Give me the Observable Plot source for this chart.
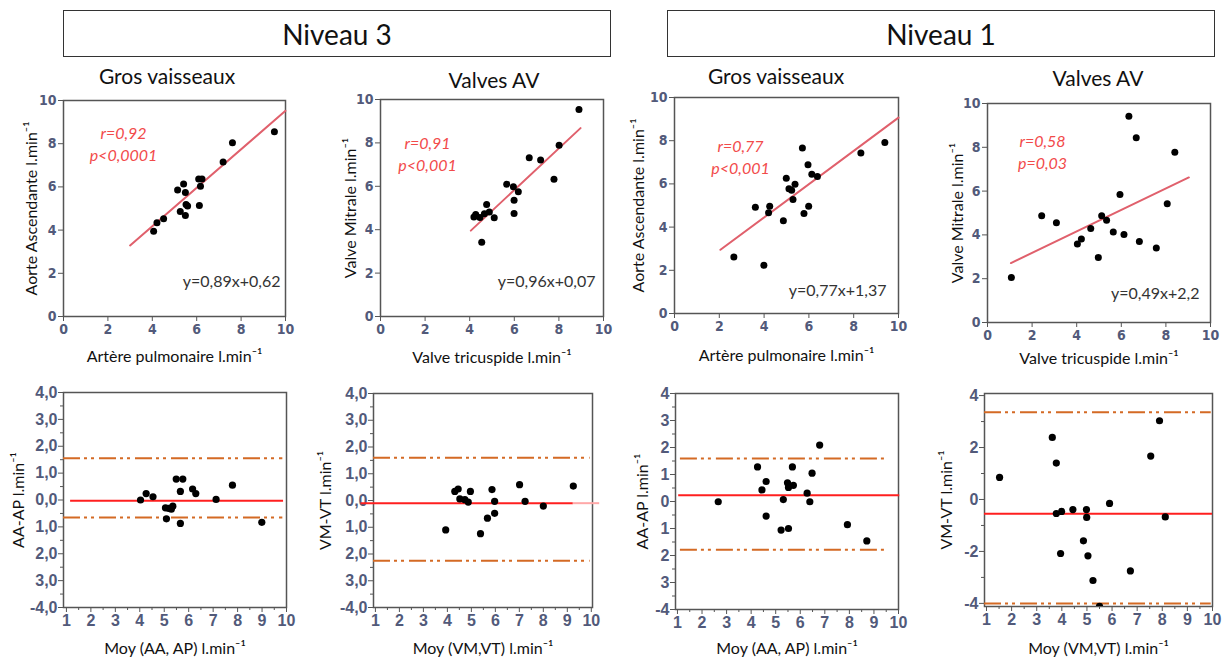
<!DOCTYPE html>
<html><head><meta charset="utf-8">
<script src="https://cdn.jsdelivr.net/npm/d3@7"></script>
<script src="https://cdn.jsdelivr.net/npm/@observablehq/plot@0.6"></script>
<style>
body{margin:0;background:#fff;}
#page{position:relative;width:1228px;height:662px;overflow:hidden;background:#fff;font-family:Lato,"Open Sans",sans-serif;}
.hdr{position:absolute;box-sizing:border-box;border:1.5px solid #333;display:flex;align-items:center;justify-content:center;font-size:28px;color:#111;}
.ttl{position:absolute;transform:translate(-50%,-50%);font-size:21px;color:#111;white-space:nowrap;}
#page svg{position:absolute;overflow:visible;}
</style></head><body><div id="page"></div>
<script>
// ---------- DATA ----------
const headers = ["Niveau 3", "Niveau 1"];
const panelTitles = ["Gros vaisseaux", "Valves AV", "Gros vaisseaux", "Valves AV"];
const scatterXLabels = ["Artère pulmonaire l.min⁻¹", "Valve tricuspide l.min⁻¹", "Artère pulmonaire l.min⁻¹", "Valve tricuspide l.min⁻¹"];
const scatterYLabels = ["Aorte Ascendante l.min⁻¹", "Valve Mitrale l.min⁻¹", "Aorte Ascendante l.min⁻¹", "Valve Mitrale l.min⁻¹"];
const baXLabels = ["Moy (AA, AP) l.min⁻¹", "Moy (VM,VT) l.min⁻¹", "Moy (AA, AP) l.min⁻¹", "Moy (VM,VT) l.min⁻¹"];
const baYLabels = ["AA-AP l.min⁻¹", "VM-VT l.min⁻¹", "AA-AP l.min⁻¹", "VM-VT l.min⁻¹"];

// Niveau 3 - Gros vaisseaux (AP vs AA)
const n3gvX = [4.06,4.21,4.51,5.14,5.41,5.49,5.26,5.49,5.52,5.59,6.09,6.24,6.17,6.12,7.19,7.61,9.50];
const n3gvY = [3.95,4.34,4.52,5.86,6.14,5.74,4.86,4.68,5.19,5.12,6.37,6.37,6.03,5.14,7.15,8.04,8.55];
// Niveau 3 - Valves AV (VT vs VM)
const n3avX = [4.19,4.27,4.46,4.54,4.66,4.76,4.88,5.10,5.66,5.96,5.99,5.99,6.18,6.67,7.18,7.78,8.01,8.90];
const n3avY = [4.58,4.70,4.56,3.42,4.73,5.16,4.82,4.55,6.10,5.98,5.36,4.75,5.75,7.32,7.21,6.33,7.89,9.54];
// Niveau 1 - Gros vaisseaux
const n1gvX = [2.65,3.61,3.99,4.20,4.25,4.86,4.99,5.11,5.23,5.38,5.29,5.71,5.78,5.96,5.99,6.13,6.38,8.32,9.39];
const n1gvY = [2.62,4.92,2.23,4.66,4.97,4.29,6.26,5.77,5.71,5.98,5.28,7.66,4.63,6.89,4.97,6.45,6.34,7.43,7.92];
// Niveau 1 - Valves AV
const n1avX = [1.07,2.43,3.09,4.03,4.21,4.63,4.97,5.12,5.34,5.64,5.94,6.12,6.34,6.67,6.81,7.57,8.06,8.40];
const n1avY = [2.05,4.88,4.56,3.58,3.81,4.29,2.97,4.87,4.67,4.13,5.84,4.02,9.42,8.44,3.70,3.40,5.42,7.77];

// regression lines (slope, intercept, drawn x-range)
const fitSlope = [0.89, 0.96, 0.77, 0.49];
const fitIntercept = [0.62, 0.07, 1.37, 2.2];
const fitXStart = [3.0, 4.05, 2.05, 1.05];
const fitXEnd = [10.0, 8.97, 10.0, 9.03];
const statR = ["r=0,92", "r=0,91", "r=0,77", "r=0,58"];
const statP = ["p<0,0001", "p<0,001", "p<0,001", "p=0,03"];
const eqText = ["y=0,89x+0,62", "y=0,96x+0,07", "y=0,77x+1,37", "y=0,49x+2,2"];

// Bland-Altman
const ba3gvX = [4.03,4.26,4.54,5.05,5.09,5.18,5.29,5.35,5.49,5.66,5.66,5.76,6.16,6.29,7.12,7.79,8.99];
const ba3gvY = [0.00,0.24,0.12,-0.29,-0.70,-0.31,-0.34,-0.23,0.78,0.32,-0.87,0.78,0.41,0.24,0.02,0.55,-0.83];
const ba3avX = [3.93,4.31,4.45,4.52,4.73,4.87,4.96,5.38,5.67,5.86,5.97,5.97,7.01,7.24,8.00,9.25];
const ba3avY = [-1.10,0.34,0.43,0.06,0.03,-0.06,0.34,-1.24,-0.66,0.41,-0.03,-0.48,0.59,-0.03,-0.21,0.54];
const ba1gvX = [2.66,4.26,4.44,4.61,4.61,5.22,5.31,5.48,5.52,5.52,5.68,5.72,6.28,6.39,6.48,6.79,7.92,8.71];
const ba1gvY = [-0.01,1.28,0.43,0.74,-0.54,-1.06,0.07,0.69,0.52,-1.00,1.28,0.60,0.31,-0.01,1.05,2.09,-0.86,-1.46];
const ba1avX = [1.52,3.62,3.78,3.78,3.95,3.99,4.44,4.86,4.98,4.99,5.04,5.24,5.50,5.90,6.73,7.54,7.89,8.12];
const ba1avY = [0.85,2.39,1.40,-0.54,-2.08,-0.46,-0.39,-1.59,-0.39,-0.69,-2.17,-3.12,-4.11,-0.15,-2.75,1.67,3.03,-0.67];

const baMean = [-0.03, -0.10, 0.23, -0.55];
const baMeanXStart = [1.17, 0.40, 1.05, 0.92];
const baMeanXEnd = [9.88, 9.25, 10.05, 10.0];
const baUpper = [1.55, 1.60, 1.59, 3.36];
const baLower = [-0.65, -2.25, -1.79, -4.0];
const baLoaXStart = [0.88, 0.92, 1.12, 0.92];
const baLoaXEnd = [9.85, 9.95, 9.55, 9.95];

// tick values & labels
const scTicks = [0, 2, 4, 6, 8, 10];
const scTickLabels = ["0", "2", "4", "6", "8", "10"];
const baXTicks = [1,2,3,4,5,6,7,8,9,10];
const baXTickLabels = ["1","2","3","4","5","6","7","8","9","10"];
const baXMinor = [1.5,2.5,3.5,4.5,5.5,6.5,7.5,8.5,9.5];
const baYTicks = [4,3,2,1,0,-1,-2,-3,-4];
const baYTickLabelsA = ["4,0","3,0","2,0","1,0","0,0","1,0","2,0","3,0","-4,0"];
const baYTickLabelsB = ["4","3","2","1","0","1","2","3","-4"];
const baYMinorA = [3.5,2.5,1.5,0.5,-0.5,-1.5,-2.5,-3.5];
const baYTicksC = [4,2,0,-2,-4];
const baYTickLabelsC = ["4","2","0","-2","-4"];
const baYMinorC = [3,1,-1,-3];

// ---------- STYLE / LAYOUT ----------
const tickFill = "#525a7a";
const frameStroke = "#555";
const titleFont = "Lato, 'Open Sans', sans-serif";
const page = document.getElementById("page");

headers.forEach((h, i) => {
  const d = document.createElement("div");
  d.className = "hdr";
  d.textContent = h;
  Object.assign(d.style, {left: (i ? 667 : 63) + "px", top: "10px", width: "548px", height: "47px"});
  page.appendChild(d);
});
const titlePos = [[167, 75], [494, 79], [776, 75], [1098, 77]];
panelTitles.forEach((t, i) => {
  const d = document.createElement("div");
  d.className = "ttl";
  d.textContent = t;
  d.style.left = titlePos[i][0] + "px";
  d.style.top = titlePos[i][1] + "px";
  page.appendChild(d);
});

function place(svg, L, T, tickSize, tickFamily) {
  svg.style.left = L + "px";
  svg.style.top = T + "px";
  // enforce tick-label font on the axis label groups
  d3.select(svg).selectAll("g[aria-label$='tick label']")
    .attr("font-size", tickSize).attr("font-family", tickFamily).attr("font-weight", "bold").attr("fill", tickFill)
    .selectAll("text").style("font-size", tickSize + "px");
  page.appendChild(svg);
}
function fmt(ticks, labels) {
  const m = new Map(ticks.map((t, i) => [t, labels[i]]));
  return d => m.get(d);
}

// scatter panels
const scLayout = [
  {box: [0, 60, 300, 300], frame: [63, 285, 100, 316], rPos: [60, 33], eqPos: [-5, -35], yOff: 32, xOff: 40},
  {box: [300, 60, 310, 300], frame: [380, 603, 99, 316], rPos: [47, 44], eqPos: [-8, -35], yOff: 30, xOff: 41},
  {box: [610, 60, 300, 300], frame: [674, 898, 97, 313], rPos: [66, 49], eqPos: [-12, -23], yOff: 36, xOff: 42},
  {box: [910, 60, 318, 300], frame: [987, 1210, 103, 322], rPos: [55, 38], eqPos: [-11, -29], yOff: 30, xOff: 36}
];
const scData = [[n3gvX, n3gvY], [n3avX, n3avY], [n1gvX, n1gvY], [n1avX, n1avY]];
const scFamily = "'Liberation Sans Narrow', 'DejaVu Sans Condensed', sans-serif";

scData.forEach(([xs, ys], i) => {
  const {box: [L, T, W, H], frame: [l, r, t, b], rPos, eqPos, yOff, xOff} = scLayout[i];
  const pts = xs.map((x, j) => ({x, y: ys[j]}));
  const fit = [fitXStart[i], fitXEnd[i]].map(x => ({x, y: fitSlope[i] * x + fitIntercept[i]}));
  const svg = Plot.plot({
    width: W, height: H,
    marginLeft: l - L, marginRight: L + W - r, marginTop: t - T, marginBottom: T + H - b,
    x: {domain: [0, 10]}, y: {domain: [0, 10]},
    style: {background: "transparent", overflow: "visible", fontSize: "14px"},
    marks: [
      Plot.frame({stroke: frameStroke, strokeWidth: 1.5}),
      Plot.axisX(scTicks, {tickSize: 5, tickPadding: 3, tickFormat: fmt(scTicks, scTickLabels), label: null, stroke: frameStroke, fill: tickFill, fontSize: 14}),
      Plot.axisY(scTicks, {tickSize: 5, tickPadding: 2, tickFormat: fmt(scTicks, scTickLabels), label: null, stroke: frameStroke, fill: tickFill, fontSize: 14}),
      Plot.line(fit, {x: "x", y: "y", stroke: "#e0606c", strokeWidth: 2}),
      Plot.dot(pts, {x: "x", y: "y", r: 3.5, fill: "#000"}),
      Plot.text([statR[i]], {text: d => d, frameAnchor: "top-left", dx: rPos[0], dy: rPos[1], textAnchor: "middle", lineAnchor: "middle", fill: "#f24a4a", fontStyle: "italic", fontSize: 16, fontFamily: titleFont}),
      Plot.text([statP[i]], {text: d => d, frameAnchor: "top-left", dx: rPos[0], dy: rPos[1] + 22, textAnchor: "middle", lineAnchor: "middle", fill: "#f24a4a", fontStyle: "italic", fontSize: 16, fontFamily: titleFont}),
      Plot.text([eqText[i]], {text: d => d, frameAnchor: "bottom-right", dx: eqPos[0], dy: eqPos[1], textAnchor: "end", lineAnchor: "middle", fill: "#333", fontSize: 16, fontFamily: titleFont}),
      Plot.text([scatterYLabels[i]], {text: d => d, frameAnchor: "left", dx: -yOff, rotate: -90, textAnchor: "middle", lineAnchor: "middle", fill: "#111", fontSize: 16, fontFamily: titleFont}),
      Plot.text([scatterXLabels[i]], {text: d => d, frameAnchor: "bottom", dy: xOff, textAnchor: "middle", lineAnchor: "middle", fill: "#111", fontSize: 16, fontFamily: titleFont})
    ]
  });
  place(svg, L, T, 14, scFamily);
});

// Bland-Altman panels
const baLayout = [
  {box: [0, 360, 300, 302], frame: [63, 286, 392, 607], xDom: [0.88, 10], yDom: [-4, 4], yOff: 45, xOff: 41},
  {box: [300, 360, 310, 302], frame: [373, 592, 393, 607], xDom: [0.92, 10.05], yDom: [-4, 4], yOff: 48, xOff: 41},
  {box: [610, 360, 300, 302], frame: [675, 898, 393, 609], xDom: [0.92, 10], yDom: [-4, 4], yOff: 33, xOff: 39},
  {box: [910, 360, 318, 302], frame: [984, 1212, 393, 606], xDom: [0.92, 10], yDom: [-4.12, 4.08], yOff: 38, xOff: 42}
];
const baData = [[ba3gvX, ba3gvY], [ba3avX, ba3avY], [ba1gvX, ba1gvY], [ba1avX, ba1avY]];
const baYT = [[baYTicks, baYTickLabelsA, baYMinorA], [baYTicks, baYTickLabelsA, baYMinorA], [baYTicks, baYTickLabelsB, baYMinorA], [baYTicksC, baYTickLabelsC, baYMinorC]];
const baFamily = "'Liberation Sans', Arial, sans-serif";

baData.forEach(([xs, ys], i) => {
  const {box: [L, T, W, H], frame: [l, r, t, b], xDom, yDom, yOff, xOff} = baLayout[i];
  const pts = xs.map((x, j) => ({x, y: ys[j]}));
  const [yt, yl, ym] = baYT[i];
  const marks = [
    Plot.frame({stroke: frameStroke, strokeWidth: 1.5}),
    Plot.axisX(baXTicks, {tickSize: 5, tickPadding: 2, tickFormat: fmt(baXTicks, baXTickLabels), label: null, stroke: frameStroke, fill: tickFill, fontSize: 16}),
    Plot.axisX(baXMinor, {tickSize: 3, label: null, stroke: frameStroke, fill: "none"}),
    Plot.axisY(yt, {tickSize: 5, tickPadding: 1, tickFormat: fmt(yt, yl), label: null, stroke: frameStroke, fill: tickFill, fontSize: 16}),
    Plot.axisY(ym, {tickSize: 3, label: null, stroke: frameStroke, fill: "none"}),
    Plot.ruleY([baUpper[i], baLower[i]], {x1: baLoaXStart[i], x2: baLoaXEnd[i], stroke: "#d46a24", strokeWidth: 2, strokeDasharray: "17,4,3,4,3,5"}),
    Plot.ruleY([baMean[i]], {x1: baMeanXStart[i], x2: baMeanXEnd[i], stroke: "#ff1f1f", strokeWidth: 2})
  ];
  if (i === 1) marks.push(Plot.ruleY([baMean[i]], {x1: baMeanXEnd[i], x2: 10.35, stroke: "#ffa8a8", strokeWidth: 2}));
  marks.push(
    Plot.dot(pts, {x: "x", y: "y", r: 3.6, fill: "#000", clip: true}),
    Plot.text([baYLabels[i]], {text: d => d, frameAnchor: "left", dx: -yOff, rotate: -90, textAnchor: "middle", lineAnchor: "middle", fill: "#111", fontSize: 16, fontFamily: titleFont}),
    Plot.text([baXLabels[i]], {text: d => d, frameAnchor: "bottom", dy: xOff, textAnchor: "middle", lineAnchor: "middle", fill: "#111", fontSize: 16, fontFamily: titleFont})
  );
  const svg = Plot.plot({
    width: W, height: H,
    marginLeft: l - L, marginRight: L + W - r, marginTop: t - T, marginBottom: T + H - b,
    x: {domain: xDom}, y: {domain: yDom},
    style: {background: "transparent", overflow: "visible", fontSize: "16px"},
    marks
  });
  place(svg, L, T, 16, baFamily);
});
</script></body></html>
